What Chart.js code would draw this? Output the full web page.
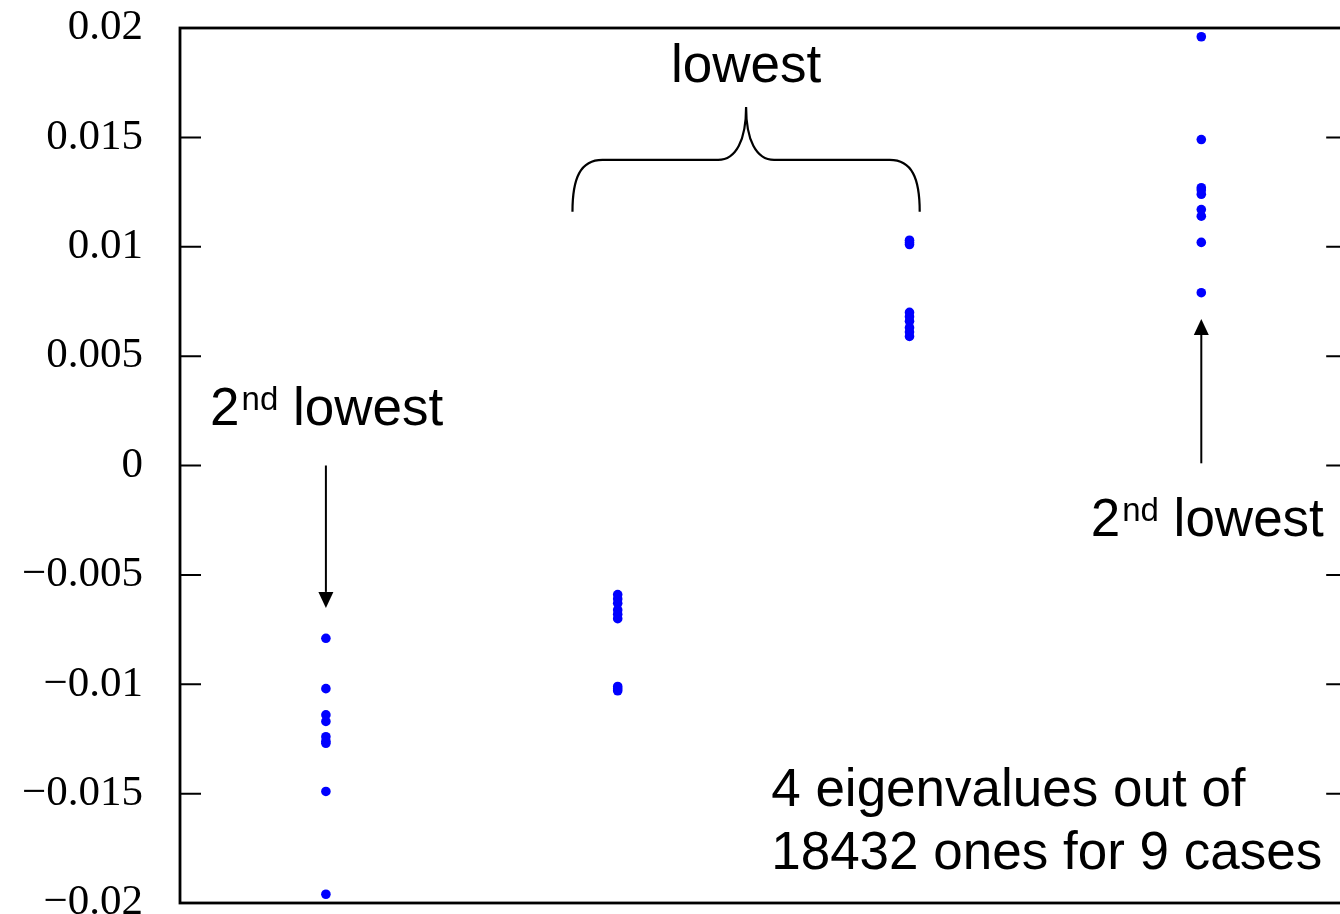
<!DOCTYPE html>
<html>
<head>
<meta charset="utf-8">
<script src="https://cdn.jsdelivr.net/npm/chart.js@4/dist/chart.umd.min.js"></script>
<style>
  html, body { margin: 0; padding: 0; background: #fff; overflow: hidden; }
  #wrap { width: 1340px; height: 914px; overflow: hidden; position: relative; }
  canvas { display: block; }
</style>
</head>
<body>
<div id="wrap"><canvas id="eig" width="1352" height="914"></canvas></div>
<script>
// Four groups of eigenvalues, nine cases each
const groupPositions = [1, 2, 3, 4];
const group1 = [-0.0079, -0.0102, -0.0114, -0.0117, -0.0124, -0.0126, -0.0127, -0.0149, -0.0196];
const group2 = [-0.0059, -0.0061, -0.0063, -0.0066, -0.0068, -0.0070, -0.0101, -0.0102, -0.0103];
const group3 = [0.0103, 0.0102, 0.0101, 0.0070, 0.0068, 0.0066, 0.0063, 0.0061, 0.0059];
const group4 = [0.0079, 0.0102, 0.0114, 0.0117, 0.0124, 0.0126, 0.0127, 0.0149, 0.0196];
const groups = [group1, group2, group3, group4];

const yTickValues = [0.02, 0.015, 0.01, 0.005, 0, -0.005, -0.01, -0.015, -0.02];
const yTickLabels = ['0.02', '0.015', '0.01', '0.005', '0', '\u22120.005', '\u22120.01', '\u22120.015', '\u22120.02'];

const points = [];
groups.forEach((vals, gi) => vals.forEach(v => points.push({ x: groupPositions[gi], y: v })));

const SANS = '"Liberation Sans", Arial, Helvetica, sans-serif';

function arrow(ctx, x, y0, y1) {
  const dir = Math.sign(y1 - y0);
  const headLen = 16, headHalf = 7.5;
  ctx.beginPath();
  ctx.moveTo(x, y0);
  ctx.lineTo(x, y1 - dir * headLen);
  ctx.stroke();
  ctx.beginPath();
  ctx.moveTo(x, y1);
  ctx.lineTo(x - headHalf, y1 - dir * headLen);
  ctx.lineTo(x + headHalf, y1 - dir * headLen);
  ctx.closePath();
  ctx.fill();
}

function ordinalLabel(ctx, x, baseline) {
  ctx.textAlign = 'left';
  ctx.textBaseline = 'alphabetic';
  ctx.font = '53px ' + SANS;
  ctx.fillText('2', x, baseline);
  let cx = x + ctx.measureText('2').width + 2;
  ctx.font = '33px ' + SANS;
  ctx.fillText('nd', cx, baseline - 15);
  cx += ctx.measureText('nd').width;
  ctx.font = '53px ' + SANS;
  cx += ctx.measureText(' ').width;
  ctx.fillText('lowest', cx, baseline);
}

const framePlugin = {
  id: 'frameAndNotes',
  afterDraw(chart) {
    const { ctx, chartArea: a, scales } = chart;
    const xs = scales.x, ys = scales.y;
    ctx.save();
    ctx.strokeStyle = '#000';
    ctx.fillStyle = '#000';

    // inward tick marks on both sides
    ctx.lineWidth = 2;
    ys.ticks.forEach(t => {
      const py = ys.getPixelForValue(t.value);
      if (Math.abs(py - a.top) < 2 || Math.abs(py - a.bottom) < 2) return;
      ctx.beginPath();
      ctx.moveTo(a.left, py); ctx.lineTo(a.left + 21, py);
      ctx.moveTo(a.right, py); ctx.lineTo(a.right - 21, py);
      ctx.stroke();
    });

    // box
    ctx.lineWidth = 2.8;
    ctx.strokeRect(a.left, a.top, a.right - a.left, a.bottom - a.top);

    // arrows pointing at the second-lowest eigenvalues
    ctx.lineWidth = 2;
    arrow(ctx, xs.getPixelForValue(1), ys.getPixelForValue(0.0), ys.getPixelForValue(-0.00651));
    arrow(ctx, xs.getPixelForValue(4), ys.getPixelForValue(0.0001), ys.getPixelForValue(0.0067));

    // brace over the two middle groups
    const bL = xs.getPixelForValue(1.845), bR = xs.getPixelForValue(3.035), bC = xs.getPixelForValue(2.44);
    const yFoot = ys.getPixelForValue(0.0116), yBar = ys.getPixelForValue(0.01397), yTip = ys.getPixelForValue(0.01639);
    ctx.lineWidth = 2.2;
    ctx.beginPath();
    ctx.moveTo(bL, yFoot);
    ctx.bezierCurveTo(bL, yBar + 18, bL + 8, yBar, bL + 30, yBar);
    ctx.lineTo(bC - 28, yBar);
    ctx.bezierCurveTo(bC - 10, yBar, bC, yBar - 20, bC, yTip);
    ctx.bezierCurveTo(bC, yBar - 20, bC + 10, yBar, bC + 28, yBar);
    ctx.lineTo(bR - 30, yBar);
    ctx.bezierCurveTo(bR - 8, yBar, bR, yBar + 18, bR, yFoot);
    ctx.stroke();

    // text notes
    ctx.font = '53px ' + SANS;
    ctx.textAlign = 'center';
    ctx.textBaseline = 'alphabetic';
    ctx.fillText('lowest', bC, ys.getPixelForValue(0.01753));

    ordinalLabel(ctx, xs.getPixelForValue(0.603), ys.getPixelForValue(0.00185));
    ordinalLabel(ctx, xs.getPixelForValue(3.621), ys.getPixelForValue(-0.00322));

    ctx.font = '53px ' + SANS;
    ctx.textAlign = 'left';
    const nx = xs.getPixelForValue(2.526);
    ctx.fillText('4 eigenvalues out of', nx, ys.getPixelForValue(-0.01557));
    ctx.fillText('18432 ones for 9 cases', nx, ys.getPixelForValue(-0.01845));
    ctx.restore();
  }
};

new Chart(document.getElementById('eig'), {
  type: 'scatter',
  data: {
    datasets: [{
      data: points,
      backgroundColor: '#0000ff',
      borderWidth: 0,
      pointRadius: 4.8,
      pointHoverRadius: 4.8
    }]
  },
  options: {
    responsive: false,
    animation: false,
    devicePixelRatio: 1,
    layout: { padding: { top: 28, bottom: 11, left: 0, right: 1 } },
    plugins: { legend: { display: false }, tooltip: { enabled: false } },
    scales: {
      x: {
        type: 'linear',
        min: 0.5,
        max: 4.5,
        display: false
      },
      y: {
        type: 'linear',
        min: -0.02,
        max: 0.02,
        afterBuildTicks(scale) {
          scale.ticks = yTickValues.map(v => ({ value: v }));
        },
        afterFit(scale) {
          scale.width = 180;
          scale.paddingTop = 0;
          scale.paddingBottom = 0;
        },
        grid: { display: false, drawTicks: false },
        border: { display: false },
        ticks: {
          autoSkip: false,
          padding: 37,
          color: '#000',
          font: { family: '"Liberation Serif", "Times New Roman", serif', size: 43 },
          callback(value) {
            const i = yTickValues.findIndex(v => Math.abs(v - value) < 1e-9);
            return i >= 0 ? yTickLabels[i] : '';
          }
        }
      }
    }
  },
  plugins: [framePlugin]
});
</script>
</body>
</html>
